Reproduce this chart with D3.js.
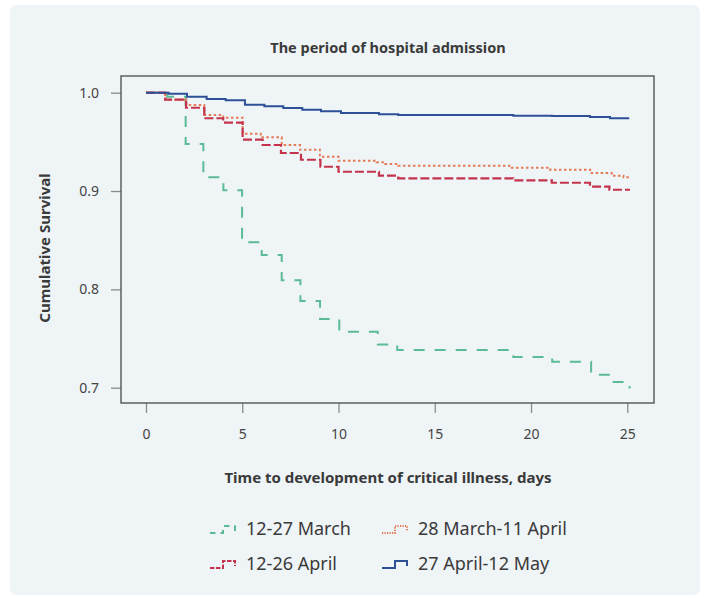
<!DOCTYPE html>
<html>
<head>
<meta charset="utf-8">
<script src="https://cdn.jsdelivr.net/npm/d3@7"></script>
<style>
    body { margin: 0; background: #ffffff; }
    svg text { font-family: "Noto Sans", "Open Sans", sans-serif; fill: #3a3a3a; }
</style>
</head>
<body>
<svg id="chart" width="705" height="598"></svg>
<script>
// tick labels
let dayTicks = [0, 5, 10, 15, 20, 25];
let survTicks = [0.7, 0.8, 0.9, 1.0];

// 12-27 March
let marchTimes = [0, 1.1, 2.06, 2.98, 4.02, 4.99, 6.01, 7.05, 8.02, 9.04, 10.04, 12.04, 13.05, 19.08, 21.1, 23.12, 24.1, 25.12];
let marchSurv = [1, 0.9959, 0.9478, 0.9139, 0.9007, 0.8478, 0.8349, 0.8092, 0.7881, 0.7698, 0.7569, 0.744, 0.7383, 0.7311, 0.7264, 0.7131, 0.7057, 0.6993];

// 28 March-11 April
let lateMarchTimes = [0, 1.0, 2.1, 3.03, 4.01, 5.02, 5.96, 7.05, 8.0, 9.03, 10.0, 11.98, 12.42, 13.11, 19.0, 20.99, 23.07, 24.19, 24.8, 25.14];
let lateMarchSurv = [1, 0.9929, 0.9875, 0.9773, 0.9746, 0.9583, 0.9546, 0.9468, 0.942, 0.9349, 0.9308, 0.9292, 0.9275, 0.9257, 0.9237, 0.9217, 0.9183, 0.9156, 0.9139, 0.9139];

// 12-26 April
let aprilTimes = [0, 1.0, 2.08, 3.03, 4.01, 5.02, 6.06, 7.01, 8.05, 9.06, 10.0, 12.1, 13.1, 19.08, 21.08, 23.06, 24.07, 25.14];
let aprilSurv = [1, 0.9929, 0.9847, 0.974, 0.9695, 0.9522, 0.9468, 0.9387, 0.9318, 0.9247, 0.9196, 0.9156, 0.9129, 0.9109, 0.9084, 0.9045, 0.9013, 0.9013];

// 27 April-12 May
let mayTimes = [0, 1.18, 2.13, 3.15, 4.14, 5.14, 6.15, 7.13, 8.12, 9.09, 10.13, 12.1, 13.1, 19.08, 21.08, 23.06, 24.1, 25.1];
let maySurv = [1, 0.999, 0.9959, 0.9936, 0.9923, 0.9878, 0.9862, 0.9844, 0.9827, 0.9811, 0.9793, 0.978, 0.9773, 0.9766, 0.9763, 0.9753, 0.974, 0.974];

let seriesNames = ["12-27 March", "28 March-11 April", "12-26 April", "27 April-12 May"];

let series = [
    {name: seriesNames[0], times: marchTimes, surv: marchSurv, color: "#5cbb97", dash: "11,10", width: 2},
    {name: seriesNames[1], times: lateMarchTimes, surv: lateMarchSurv, color: "#e57a55", dash: "2.5,2.5", width: 2},
    {name: seriesNames[2], times: aprilTimes, surv: aprilSurv, color: "#c3344c", dash: "9,3", width: 2.2},
    {name: seriesNames[3], times: mayTimes, surv: maySurv, color: "#2d5196", dash: null, width: 2}
];

let svg = d3.select("#chart");

// light panel behind everything
svg.append("rect")
    .attr("x", 10).attr("y", 5)
    .attr("width", 690).attr("height", 590)
    .attr("rx", 7)
    .style("fill", "#eff4f7");

let box = {left: 121, right: 654, top: 76, bottom: 403};

let xScale = d3.scaleLinear()
    .domain([0, 25])
    .range([146, 627.3]);

let yScale = d3.scaleLinear()
    .domain([0.7, 1.0])
    .range([387.7, 92.7]);

// x axis, ticks hang off the box
let xAxis = d3.axisBottom(xScale)
    .tickValues(dayTicks)
    .tickSize(10)
    .tickPadding(16)
    .tickFormat(d3.format("d"));

svg.append("g")
    .attr("transform", "translate(0," + box.bottom + ")")
    .call(xAxis)
    .call(g => g.select(".domain").remove())
    .call(g => g.selectAll("line").style("stroke", "#8a8a8a").style("stroke-width", 1.3))
    .call(g => g.selectAll("text").style("font-size", "14px").style("font-family", "Noto Sans").style("fill", "#444"));

let yAxis = d3.axisLeft(yScale)
    .tickValues(survTicks)
    .tickSize(10)
    .tickPadding(12)
    .tickFormat(d3.format(".1f"));

svg.append("g")
    .attr("transform", "translate(" + box.left + ",0)")
    .call(yAxis)
    .call(g => g.select(".domain").remove())
    .call(g => g.selectAll("line").style("stroke", "#8a8a8a").style("stroke-width", 1.3))
    .call(g => g.selectAll("text").style("font-size", "14px").style("font-family", "Noto Sans").style("fill", "#444"));

// plot frame
svg.append("rect")
    .attr("x", box.left).attr("y", box.top)
    .attr("width", box.right - box.left)
    .attr("height", box.bottom - box.top)
    .style("fill", "none")
    .style("stroke", "#555")
    .style("stroke-width", 1.4);

// survival curves
let line = d3.line()
    .x(d => xScale(d[0]))
    .y(d => yScale(d[1]))
    .curve(d3.curveStepAfter);

svg.append("g")
    .selectAll("path")
    .data(series)
    .enter().append("path")
    .attr("d", s => line(s.times.map((t, i) => [t, s.surv[i]])))
    .style("fill", "none")
    .style("stroke", s => s.color)
    .style("stroke-width", s => s.width)
    .style("stroke-dasharray", s => s.dash);

// titles
svg.append("text")
    .attr("x", 388).attr("y", 53)
    .attr("text-anchor", "middle")
    .style("font-size", "14.5px")
    .style("font-weight", "bold")
    .text("The period of hospital admission");

svg.append("text")
    .attr("x", 388).attr("y", 483)
    .attr("text-anchor", "middle")
    .style("font-size", "15px")
    .style("font-weight", "bold")
    .text("Time to development of critical illness, days");

svg.append("text")
    .attr("transform", "translate(50,248) rotate(-90)")
    .attr("text-anchor", "middle")
    .style("font-size", "15px")
    .style("font-weight", "bold")
    .text("Cumulative Survival");

// legend, two columns
let legendPos = [[210, 529], [382, 529], [210, 564], [382, 564]];

let legend = svg.append("g")
    .selectAll("g")
    .data(series)
    .enter().append("g")
    .attr("transform", (s, i) => "translate(" + legendPos[i][0] + "," + legendPos[i][1] + ")");

legend.append("path")
    .attr("d", "M0,4H13V-3H25V2")
    .style("fill", "none")
    .style("stroke", s => s.color)
    .style("stroke-width", 2)
    .style("stroke-dasharray", s => s.dash ? s.dash.split(",").map(v => v * 0.5).join(",") : null);

legend.append("text")
    .attr("x", 36).attr("y", 6)
    .style("font-size", "18px")
    .text(s => s.name);
</script>
</body>
</html>
